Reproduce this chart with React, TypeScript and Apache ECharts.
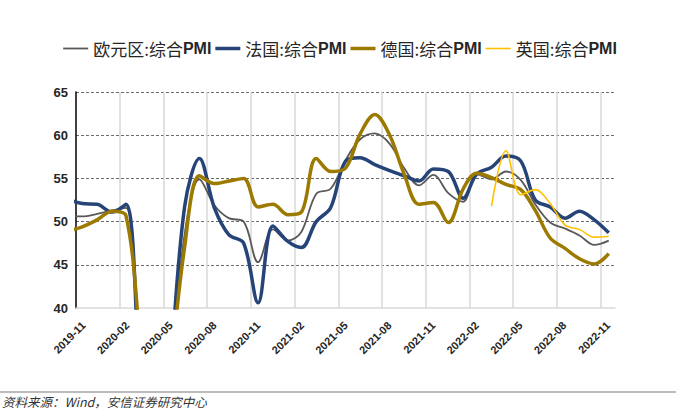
import React, { useEffect, useRef } from "react";
import * as echarts from "echarts";

// Monthly observations (2019-10 is just left of the axis start and gets clipped)
const months = [
  "2019-10", "2019-11", "2019-12",
  "2020-01", "2020-02", "2020-03", "2020-04", "2020-05", "2020-06", "2020-07", "2020-08", "2020-09", "2020-10", "2020-11", "2020-12",
  "2021-01", "2021-02", "2021-03", "2021-04", "2021-05", "2021-06", "2021-07", "2021-08", "2021-09", "2021-10", "2021-11", "2021-12",
  "2022-01", "2022-02", "2022-03", "2022-04", "2022-05", "2022-06", "2022-07", "2022-08", "2022-09", "2022-10", "2022-11",
];

const eurozone = [
  50.6, 50.6, 50.9,
  51.3, 51.6, 29.7, 13.6, 31.9, 48.5, 54.9, 51.9, 50.4, 50.0, 45.3, 49.1,
  47.8, 48.8, 53.2, 53.8, 57.1, 59.5, 60.2, 59.0, 56.2, 54.2, 55.4, 53.3,
  52.3, 55.5, 54.9, 55.8, 54.8, 52.0, 49.9, 49.2, 48.4, 47.3, 47.8,
];

const france = [
  52.6, 52.1, 52.0,
  51.1, 52.0, 28.9, 11.1, 32.1, 51.7, 57.3, 51.6, 48.5, 47.5, 40.6, 49.5,
  47.7, 47.0, 50.0, 51.6, 57.0, 57.4, 56.6, 55.9, 55.3, 54.7, 56.1, 55.8,
  52.7, 55.5, 56.3, 57.6, 57.0, 52.5, 51.7, 50.4, 51.2, 50.2, 48.7,
];

const germany = [
  48.9, 49.4, 50.2,
  51.2, 50.7, 35.0, 17.4, 32.3, 47.0, 55.3, 54.4, 54.7, 55.0, 51.7, 52.0,
  50.8, 51.1, 57.3, 55.8, 56.2, 60.1, 62.4, 60.0, 55.5, 52.0, 52.2, 49.9,
  53.8, 55.6, 55.1, 54.3, 53.7, 51.3, 48.1, 46.9, 45.7, 45.1, 46.3,
];

const uk: (number | null)[] = [
  null, null, null,
  null, null, null, null, null, null, null, null, null, null, null, null,
  null, null, null, null, null, null, null, null, null, null, null, null,
  null, null, 51.8, 58.2, 53.1, 53.7, 52.1, 49.6, 49.1, 48.2, 48.3,
];

const tickLabels = [
  "2019-11", "2020-02", "2020-05", "2020-08", "2020-11", "2021-02", "2021-05",
  "2021-08", "2021-11", "2022-02", "2022-05", "2022-08", "2022-11",
];

const seriesNames = ["欧元区:综合PMI", "法国:综合PMI", "德国:综合PMI", "英国:综合PMI"];

// axis is measured in days; labels every 91 days
const TICK_STEP = 91;
const AXIS_MAX = 1122;
const START_SHIFT = 13;
const BASE = Date.UTC(2019, 10, 30);

function monthX(m: string): number {
  const [y, mo] = m.split("-").map(Number);
  const end = Date.UTC(y, mo, 0); // last day of month
  return START_SHIFT + (end - BASE) / 86400000;
}

function pairs(vals: (number | null)[]) {
  const out: [number, number][] = [];
  months.forEach((m, i) => {
    const v = vals[i];
    if (v !== null && v !== undefined) out.push([monthX(m), v]);
  });
  return out;
}

export default function App() {
  const ref = useRef<HTMLDivElement>(null);

  useEffect(() => {
    document.body.style.margin = "0";
    if (!ref.current) return;
    const chart = echarts.init(ref.current, undefined, { renderer: "svg" });

    const mk = (name: string, vals: (number | null)[], color: string, width: number) => ({
      name,
      type: "line",
      data: pairs(vals),
      smooth: 0.35,
      symbol: "none",
      showSymbol: false,
      clip: true,
      lineStyle: { color, width },
      itemStyle: { color },
    });

    const widths = [1.8, 3.5, 3.5, 1.6];

    chart.setOption({
      animation: false,
      backgroundColor: "#ffffff",
      legend: {
        top: 35,
        left: "center",
        itemWidth: 25,
        itemHeight: 14,
        itemGap: 4,
        symbolKeepAspect: true,
        data: seriesNames.map((n, i) => ({
          name: n,
          icon: `path://M0 0H25V${widths[i]}H0Z`,
        })),
        formatter: (name: string) => `{c|${name.replace(/PMI$/, "")}}{p|PMI}`,
        textStyle: {
          fontSize: 17,
          color: "#262626",
          rich: {
            c: { fontSize: 17, color: "#262626", fontFamily: "Noto Sans CJK SC" },
            p: { fontSize: 16, color: "#262626", fontWeight: "bold", fontFamily: "Liberation Sans" },
          },
        },
      },
      grid: { left: 76, right: 65, top: 92, bottom: 111, containLabel: false },
      xAxis: {
        type: "value",
        min: 0,
        max: AXIS_MAX,
        interval: TICK_STEP,
        axisLine: { show: true, lineStyle: { color: "#d9d9d9", width: 1.5 } },
        axisTick: { show: false },
        splitLine: {
          show: true,
          showMinLine: false,
          showMaxLine: false,
          lineStyle: { color: "#d9d9d9", width: 1.5, type: "solid" },
        },
        axisLabel: {
          rotate: 45,
          margin: 8,
          verticalAlign: "top",
          align: "right",
          padding: [5, 0, 0, 0],
          fontSize: 11,
          fontWeight: "bold",
          color: "#262626",
          fontFamily: "Liberation Sans",
          formatter: (v: number) => {
            const k = Math.round(v / TICK_STEP);
            return Math.abs(v - k * TICK_STEP) < 0.5 && tickLabels[k] ? tickLabels[k] : "";
          },
        },
      },
      yAxis: {
        type: "value",
        min: 40,
        max: 65,
        interval: 5,
        axisLine: { show: true, lineStyle: { color: "#000000", width: 1.5 } },
        axisTick: { show: false },
        axisLabel: {
          margin: 8,
          fontSize: 13,
          fontWeight: "bold",
          color: "#262626",
          fontFamily: "Liberation Sans",
        },
        splitLine: {
          show: true,
          showMinLine: false,
          lineStyle: { color: "#6b6b6b", width: 1, type: [3, 2] },
        },
      },
      series: [
        mk(seriesNames[0], eurozone, "#595959", widths[0]),
        mk(seriesNames[1], france, "#264478", widths[1]),
        mk(seriesNames[2], germany, "#9c7a00", widths[2]),
        mk(seriesNames[3], uk, "#ffc000", widths[3]),
      ],
      graphic: [
        {
          type: "line",
          shape: { x1: 0, y1: 392, x2: 676, y2: 392 },
          style: { stroke: "#a6a6a6", lineWidth: 1.5 },
          silent: true,
        },
        {
          type: "text",
          x: 2,
          y: 401,
          style: {
            text: "资料来源：Wind，安信证券研究中心",
            fontSize: 12.5,
            fontStyle: "italic",
            fontFamily: "Noto Sans CJK SC",
            fill: "#333333",
            verticalAlign: "middle",
            align: "left",
          },
          silent: true,
        },
      ],
    });

    return () => chart.dispose();
  }, []);

  return <div ref={ref} style={{ width: 680, height: 419 }} />;
}
